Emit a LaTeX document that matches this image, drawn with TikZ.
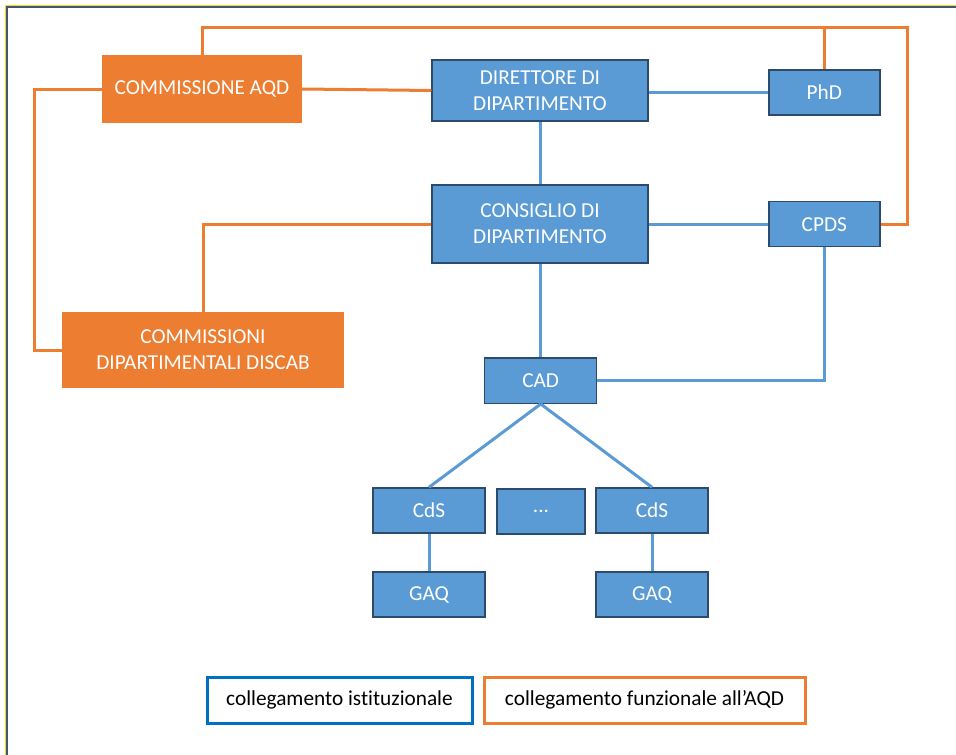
\documentclass[tikz,border=0pt]{standalone}
\usepackage{fontspec}
\setmainfont[Ligatures=NoCommon]{Carlito}
\definecolor{boxblue}{HTML}{5B9BD5}
\definecolor{boxedge}{HTML}{2E4A6A}
\definecolor{boxorange}{HTML}{ED7D31}
\definecolor{legblue}{HTML}{0070C0}
\definecolor{frameslate}{HTML}{44546A}
\definecolor{frameyellow}{HTML}{E8E030}
\tikzset{
  bluebox/.style={draw=boxedge, line width=1.5pt, fill=boxblue, text=white, align=center,
    inner sep=0pt, font=\fontsize{21.3}{26}\selectfont},
  orangebox/.style={fill=boxorange, text=white, align=center, inner sep=0pt,
    font=\fontsize{21.3}{26}\selectfont},
  legbox/.style={fill=white, line width=3pt, text=black, inner sep=0pt,
    font=\fontsize{21.3}{26}\selectfont},
  oline/.style={draw=boxorange, line width=3pt},
  bline/.style={draw=boxblue, line width=3pt},
}
\begin{document}
\begin{tikzpicture}[x=1pt,y=-1pt]
\useasboundingbox (0,0) rectangle (956,755);
% frame
\draw[frameyellow, line width=0.6pt] (5.2,755) -- (5.2,5.2) -- (956,5.2);
\draw[frameslate, line width=2pt] (6.7,755) -- (6.7,6.7) -- (956,6.7);

% nodes
\node[orangebox, minimum width=200pt, minimum height=68pt] (aqd) at (202,89) {COMMISSIONE AQD};
\node[bluebox, minimum width=216pt, minimum height=61pt] (dir) at (540,90.5) {DIRETTORE DI\\DIPARTIMENTO};
\node[bluebox, minimum width=111pt, minimum height=45pt] (phd) at (824.3,92.5) {PhD};
\node[bluebox, minimum width=216pt, minimum height=78pt] (cons) at (540,224) {CONSIGLIO DI\\DIPARTIMENTO};
\node[bluebox, minimum width=111pt, minimum height=45pt] (cpds) at (824.3,224.2) {CPDS};
\node[orangebox, minimum width=282pt, minimum height=76pt] (disc) at (203,350) {COMMISSIONI\\DIPARTIMENTALI DISCAB};
\node[bluebox, minimum width=112pt, minimum height=45.5pt] (cad) at (540.7,380.5) {CAD};
\node[bluebox, minimum width=112pt, minimum height=45pt] (cds1) at (429,510.5) {CdS};
\node[bluebox, minimum width=88pt, minimum height=45pt] (dots) at (541,511.5) {...};
\node[bluebox, minimum width=112pt, minimum height=45pt] (cds2) at (652,510.5) {CdS};
\node[bluebox, minimum width=112pt, minimum height=45pt] (gaq1) at (429,594.5) {GAQ};
\node[bluebox, minimum width=112pt, minimum height=45pt] (gaq2) at (652,594.5) {GAQ};
\node[legbox, draw=legblue, minimum width=265pt, minimum height=46pt] (leg1) at (339.5,700) {collegamento istituzionale};
\node[legbox, draw=boxorange, minimum width=321pt, minimum height=46pt] (leg2) at (644.5,700) {collegamento funzionale all’AQD};

% orange connectors
\coordinate (otop) at (907.7,27);
\coordinate (oleft) at (34,0);
\draw[oline] (aqd.north) |- (otop) |- (cpds.east);
\draw[oline] (phd.north) -- (phd.north |- otop);
\draw[oline] (aqd.east) -- (dir.west);
\draw[oline] (aqd.west) -- (oleft |- aqd.west) -- (oleft |- disc.west) -- (disc.west);
\draw[oline] (cons.west) -| (disc.north);

% blue connectors
\draw[bline] (dir.east |- phd.west) -- (phd.west);
\draw[bline] (dir.south) -- (cons.north);
\draw[bline] (cons.east |- cpds.west) -- (cpds.west);
\draw[bline] (cons.south) -- (cons.south |- cad.north);
\draw[bline] (cad.east) -| (cpds.south);
\draw[bline] (cad.south) -- (cds1.north);
\draw[bline] (cad.south) -- (cds2.north);
\draw[bline] (cds1.south) -- (gaq1.north);
\draw[bline] (cds2.south) -- (gaq2.north);
\end{tikzpicture}
\end{document}
